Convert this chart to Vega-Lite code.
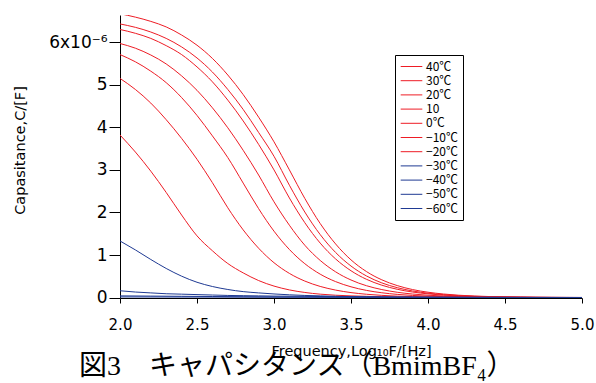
{
  "$schema": "https://vega.github.io/schema/vega-lite/v6.json",
  "width": 462,
  "height": 283,
  "autosize": {"type": "none"},
  "padding": {"left": 120, "top": 15, "right": 14, "bottom": 85},
  "background": "white",
  "title": {"text": "図3　キャパシタンス（BmimBF₄）", "orient": "bottom", "anchor": "start", "font": "Liberation Serif, Noto Sans CJK JP", "fontSize": 28, "fontWeight": "normal", "color": "black", "offset": -5, "dx": 67},
  "datasets": {
    "d": [
      {"T":"40℃","x":2.0,"C":6.67},{"T":"40℃","x":2.1,"C":6.59},{"T":"40℃","x":2.2,"C":6.49},{"T":"40℃","x":2.3,"C":6.36},{"T":"40℃","x":2.4,"C":6.17},{"T":"40℃","x":2.5,"C":5.93},{"T":"40℃","x":2.6,"C":5.62},{"T":"40℃","x":2.7,"C":5.23},{"T":"40℃","x":2.8,"C":4.77},{"T":"40℃","x":2.9,"C":4.24},{"T":"40℃","x":3.0,"C":3.66},{"T":"40℃","x":3.1,"C":3.00},{"T":"40℃","x":3.2,"C":2.33},{"T":"40℃","x":3.3,"C":1.74},{"T":"40℃","x":3.4,"C":1.26},{"T":"40℃","x":3.5,"C":0.886},{"T":"40℃","x":3.6,"C":0.612},{"T":"40℃","x":3.7,"C":0.417},{"T":"40℃","x":3.8,"C":0.282},{"T":"40℃","x":3.9,"C":0.188},{"T":"40℃","x":4.0,"C":0.126},{"T":"40℃","x":4.1,"C":0.084},{"T":"40℃","x":4.2,"C":0.055},{"T":"40℃","x":4.3,"C":0.037},{"T":"40℃","x":4.4,"C":0.024},{"T":"40℃","x":4.5,"C":0.016},{"T":"40℃","x":4.6,"C":0.011},{"T":"40℃","x":4.7,"C":0.007},{"T":"40℃","x":4.8,"C":0.005},{"T":"40℃","x":4.9,"C":0.003},{"T":"40℃","x":5.0,"C":0.002},
      {"T":"30℃","x":2.0,"C":6.43},{"T":"30℃","x":2.1,"C":6.35},{"T":"30℃","x":2.2,"C":6.24},{"T":"30℃","x":2.3,"C":6.09},{"T":"30℃","x":2.4,"C":5.89},{"T":"30℃","x":2.5,"C":5.63},{"T":"30℃","x":2.6,"C":5.30},{"T":"30℃","x":2.7,"C":4.89},{"T":"30℃","x":2.8,"C":4.42},{"T":"30℃","x":2.9,"C":3.88},{"T":"30℃","x":3.0,"C":3.32},{"T":"30℃","x":3.1,"C":2.64},{"T":"30℃","x":3.2,"C":2.01},{"T":"30℃","x":3.3,"C":1.48},{"T":"30℃","x":3.4,"C":1.06},{"T":"30℃","x":3.5,"C":0.741},{"T":"30℃","x":3.6,"C":0.509},{"T":"30℃","x":3.7,"C":0.345},{"T":"30℃","x":3.8,"C":0.233},{"T":"30℃","x":3.9,"C":0.155},{"T":"30℃","x":4.0,"C":0.103},{"T":"30℃","x":4.1,"C":0.069},{"T":"30℃","x":4.2,"C":0.046},{"T":"30℃","x":4.3,"C":0.030},{"T":"30℃","x":4.4,"C":0.020},{"T":"30℃","x":4.5,"C":0.013},{"T":"30℃","x":4.6,"C":0.009},{"T":"30℃","x":4.7,"C":0.006},{"T":"30℃","x":4.8,"C":0.004},{"T":"30℃","x":4.9,"C":0.003},{"T":"30℃","x":5.0,"C":0.002},
      {"T":"20℃","x":2.0,"C":6.30},{"T":"20℃","x":2.1,"C":6.21},{"T":"20℃","x":2.2,"C":6.09},{"T":"20℃","x":2.3,"C":5.92},{"T":"20℃","x":2.4,"C":5.71},{"T":"20℃","x":2.5,"C":5.42},{"T":"20℃","x":2.6,"C":5.07},{"T":"20℃","x":2.7,"C":4.64},{"T":"20℃","x":2.8,"C":4.15},{"T":"20℃","x":2.9,"C":3.60},{"T":"20℃","x":3.0,"C":3.00},{"T":"20℃","x":3.1,"C":2.34},{"T":"20℃","x":3.2,"C":1.76},{"T":"20℃","x":3.3,"C":1.28},{"T":"20℃","x":3.4,"C":0.908},{"T":"20℃","x":3.5,"C":0.630},{"T":"20℃","x":3.6,"C":0.430},{"T":"20℃","x":3.7,"C":0.291},{"T":"20℃","x":3.8,"C":0.195},{"T":"20℃","x":3.9,"C":0.130},{"T":"20℃","x":4.0,"C":0.087},{"T":"20℃","x":4.1,"C":0.057},{"T":"20℃","x":4.2,"C":0.038},{"T":"20℃","x":4.3,"C":0.025},{"T":"20℃","x":4.4,"C":0.017},{"T":"20℃","x":4.5,"C":0.011},{"T":"20℃","x":4.6,"C":0.007},{"T":"20℃","x":4.7,"C":0.005},{"T":"20℃","x":4.8,"C":0.003},{"T":"20℃","x":4.9,"C":0.002},{"T":"20℃","x":5.0,"C":0.001},
      {"T":"10","x":2.0,"C":5.97},{"T":"10","x":2.1,"C":5.86},{"T":"10","x":2.2,"C":5.70},{"T":"10","x":2.3,"C":5.49},{"T":"10","x":2.4,"C":5.21},{"T":"10","x":2.5,"C":4.87},{"T":"10","x":2.6,"C":4.46},{"T":"10","x":2.7,"C":3.99},{"T":"10","x":2.8,"C":3.46},{"T":"10","x":2.9,"C":2.88},{"T":"10","x":3.0,"C":2.25},{"T":"10","x":3.1,"C":1.70},{"T":"10","x":3.2,"C":1.23},{"T":"10","x":3.3,"C":0.873},{"T":"10","x":3.4,"C":0.605},{"T":"10","x":3.5,"C":0.413},{"T":"10","x":3.6,"C":0.279},{"T":"10","x":3.7,"C":0.188},{"T":"10","x":3.8,"C":0.125},{"T":"10","x":3.9,"C":0.083},{"T":"10","x":4.0,"C":0.055},{"T":"10","x":4.1,"C":0.037},{"T":"10","x":4.2,"C":0.024},{"T":"10","x":4.3,"C":0.016},{"T":"10","x":4.4,"C":0.011},{"T":"10","x":4.5,"C":0.007},{"T":"10","x":4.6,"C":0.005},{"T":"10","x":4.7,"C":0.003},{"T":"10","x":4.8,"C":0.002},{"T":"10","x":4.9,"C":0.001},{"T":"10","x":5.0,"C":0.001},
      {"T":"0℃","x":2.0,"C":5.71},{"T":"0℃","x":2.1,"C":5.54},{"T":"0℃","x":2.2,"C":5.32},{"T":"0℃","x":2.3,"C":5.05},{"T":"0℃","x":2.4,"C":4.70},{"T":"0℃","x":2.5,"C":4.28},{"T":"0℃","x":2.6,"C":3.80},{"T":"0℃","x":2.7,"C":3.29},{"T":"0℃","x":2.8,"C":2.69},{"T":"0℃","x":2.9,"C":2.09},{"T":"0℃","x":3.0,"C":1.56},{"T":"0℃","x":3.1,"C":1.13},{"T":"0℃","x":3.2,"C":0.796},{"T":"0℃","x":3.3,"C":0.550},{"T":"0℃","x":3.4,"C":0.375},{"T":"0℃","x":3.5,"C":0.253},{"T":"0℃","x":3.6,"C":0.169},{"T":"0℃","x":3.7,"C":0.113},{"T":"0℃","x":3.8,"C":0.075},{"T":"0℃","x":3.9,"C":0.050},{"T":"0℃","x":4.0,"C":0.033},{"T":"0℃","x":4.1,"C":0.022},{"T":"0℃","x":4.2,"C":0.014},{"T":"0℃","x":4.3,"C":0.010},{"T":"0℃","x":4.4,"C":0.006},{"T":"0℃","x":4.5,"C":0.004},{"T":"0℃","x":4.6,"C":0.003},{"T":"0℃","x":4.7,"C":0.002},{"T":"0℃","x":4.8,"C":0.001},{"T":"0℃","x":4.9,"C":0.001},{"T":"0℃","x":5.0,"C":0.001},
      {"T":"−10℃","x":2.0,"C":5.15},{"T":"−10℃","x":2.1,"C":4.89},{"T":"−10℃","x":2.2,"C":4.57},{"T":"−10℃","x":2.3,"C":4.18},{"T":"−10℃","x":2.4,"C":3.74},{"T":"−10℃","x":2.5,"C":3.25},{"T":"−10℃","x":2.6,"C":2.70},{"T":"−10℃","x":2.7,"C":2.11},{"T":"−10℃","x":2.8,"C":1.59},{"T":"−10℃","x":2.9,"C":1.16},{"T":"−10℃","x":3.0,"C":0.819},{"T":"−10℃","x":3.1,"C":0.568},{"T":"−10℃","x":3.2,"C":0.388},{"T":"−10℃","x":3.3,"C":0.262},{"T":"−10℃","x":3.4,"C":0.176},{"T":"−10℃","x":3.5,"C":0.117},{"T":"−10℃","x":3.6,"C":0.078},{"T":"−10℃","x":3.7,"C":0.052},{"T":"−10℃","x":3.8,"C":0.034},{"T":"−10℃","x":3.9,"C":0.023},{"T":"−10℃","x":4.0,"C":0.015},{"T":"−10℃","x":4.2,"C":0.0065},{"T":"−10℃","x":4.4,"C":0.003},{"T":"−10℃","x":4.7,"C":0.001},{"T":"−10℃","x":5.0,"C":0.0005},
      {"T":"−20℃","x":2.0,"C":3.82},{"T":"−20℃","x":2.1,"C":3.42},{"T":"−20℃","x":2.2,"C":2.97},{"T":"−20℃","x":2.3,"C":2.47},{"T":"−20℃","x":2.4,"C":1.94},{"T":"−20℃","x":2.5,"C":1.45},{"T":"−20℃","x":2.6,"C":1.10},{"T":"−20℃","x":2.7,"C":0.80},{"T":"−20℃","x":2.8,"C":0.58},{"T":"−20℃","x":2.9,"C":0.40},{"T":"−20℃","x":3.0,"C":0.27},{"T":"−20℃","x":3.1,"C":0.18},{"T":"−20℃","x":3.2,"C":0.12},{"T":"−20℃","x":3.3,"C":0.08},{"T":"−20℃","x":3.4,"C":0.055},{"T":"−20℃","x":3.5,"C":0.04},{"T":"−20℃","x":3.6,"C":0.03},{"T":"−20℃","x":3.7,"C":0.02},{"T":"−20℃","x":3.8,"C":0.015},{"T":"−20℃","x":3.9,"C":0.01},{"T":"−20℃","x":4.0,"C":0.008},{"T":"−20℃","x":4.3,"C":0.004},{"T":"−20℃","x":4.6,"C":0.002},{"T":"−20℃","x":5.0,"C":0.001},
      {"T":"−30℃","x":2.0,"C":1.33},{"T":"−30℃","x":2.1,"C":1.12},{"T":"−30℃","x":2.2,"C":0.895},{"T":"−30℃","x":2.3,"C":0.684},{"T":"−30℃","x":2.4,"C":0.503},{"T":"−30℃","x":2.5,"C":0.36},{"T":"−30℃","x":2.6,"C":0.26},{"T":"−30℃","x":2.7,"C":0.19},{"T":"−30℃","x":2.8,"C":0.14},{"T":"−30℃","x":2.9,"C":0.11},{"T":"−30℃","x":3.0,"C":0.085},{"T":"−30℃","x":3.1,"C":0.065},{"T":"−30℃","x":3.2,"C":0.05},{"T":"−30℃","x":3.3,"C":0.04},{"T":"−30℃","x":3.4,"C":0.03},{"T":"−30℃","x":3.5,"C":0.022},{"T":"−30℃","x":3.6,"C":0.016},{"T":"−30℃","x":3.8,"C":0.009},{"T":"−30℃","x":4.0,"C":0.005},{"T":"−30℃","x":4.5,"C":0.002},{"T":"−30℃","x":5.0,"C":0.001},
      {"T":"−40℃","x":2.0,"C":0.16},{"T":"−40℃","x":2.1,"C":0.13},{"T":"−40℃","x":2.2,"C":0.11},{"T":"−40℃","x":2.3,"C":0.09},{"T":"−40℃","x":2.4,"C":0.08},{"T":"−40℃","x":2.5,"C":0.07},{"T":"−40℃","x":2.6,"C":0.06},{"T":"−40℃","x":2.7,"C":0.05},{"T":"−40℃","x":2.8,"C":0.045},{"T":"−40℃","x":2.9,"C":0.04},{"T":"−40℃","x":3.0,"C":0.035},{"T":"−40℃","x":3.2,"C":0.03},{"T":"−40℃","x":3.4,"C":0.02},{"T":"−40℃","x":3.6,"C":0.015},{"T":"−40℃","x":3.8,"C":0.01},{"T":"−40℃","x":4.0,"C":0.008},{"T":"−40℃","x":4.5,"C":0.004},{"T":"−40℃","x":5.0,"C":0.002},
      {"T":"−50℃","x":2.0,"C":0.04},{"T":"−50℃","x":2.2,"C":0.035},{"T":"−50℃","x":2.4,"C":0.03},{"T":"−50℃","x":2.6,"C":0.025},{"T":"−50℃","x":2.8,"C":0.02},{"T":"−50℃","x":3.0,"C":0.015},{"T":"−50℃","x":3.5,"C":0.01},{"T":"−50℃","x":4.0,"C":0.005},{"T":"−50℃","x":5.0,"C":0.002},
      {"T":"−60℃","x":2.0,"C":0.015},{"T":"−60℃","x":2.5,"C":0.012},{"T":"−60℃","x":3.0,"C":0.008},{"T":"−60℃","x":3.5,"C":0.005},{"T":"−60℃","x":4.0,"C":0.003},{"T":"−60℃","x":5.0,"C":0.001}
    ]
  },
  "data": {"name": "d"},
  "mark": {"type": "line", "strokeWidth": 1, "interpolate": "monotone", "clip": true},
  "encoding": {
    "x": {
      "field": "x", "type": "quantitative",
      "scale": {"domain": [2, 5], "nice": false, "zero": false},
      "axis": {"title": "Frequency,Log₁₀F/[Hz]", "values": [2, 2.5, 3, 3.5, 4, 4.5, 5], "format": ".1f", "grid": false, "domainColor": "black", "tickColor": "black", "tickSize": 5, "labelFont": "DejaVu Sans", "labelFontSize": 15, "labelColor": "black", "labelPadding": 14, "labelFlush": false, "titleFont": "DejaVu Sans", "titleFontSize": 14.5, "titleFontWeight": "normal", "titleColor": "black", "titlePadding": 12}
    },
    "y": {
      "field": "C", "type": "quantitative",
      "scale": {"domain": [-0.01, 6.64], "nice": false, "zero": false},
      "axis": {"title": "Capasitance,C/[F]", "values": [0, 1, 2, 3, 4, 5, 6], "labelExpr": "datum.value == 6 ? '6x10⁻⁶' : datum.label", "grid": false, "domainColor": "black", "tickColor": "black", "tickSize": 11, "labelFont": "DejaVu Sans", "labelFontSize": 17, "labelColor": "black", "labelPadding": 2, "titleFont": "DejaVu Sans", "titleFontSize": 14.5, "titleFontWeight": "normal", "titleColor": "black", "titleX": -93, "titleY": 135}
    },
    "color": {
      "field": "T", "type": "nominal",
      "scale": {
        "domain": ["40℃", "30℃", "20℃", "10", "0℃", "−10℃", "−20℃", "−30℃", "−40℃", "−50℃", "−60℃"],
        "range": ["#ee1c25", "#ee1c25", "#ee1c25", "#ee1c25", "#ee1c25", "#ee1c25", "#ee1c25", "#1f3a93", "#1f3a93", "#1f3a93", "#1f3a93"]
      },
      "legend": {"title": null, "orient": "none", "legendX": 275, "legendY": 40, "strokeColor": "black", "fillColor": "white", "padding": 5, "symbolType": "M-1.8,0L1.8,0", "symbolSize": 144, "symbolStrokeWidth": 1, "symbolOffset": 5, "labelFont": "Noto Sans CJK JP", "labelFontSize": 12, "labelColor": "black", "rowPadding": 1.2, "labelOffset": 8}
    }
  },
  "config": {"view": {"stroke": null}, "font": "DejaVu Sans"}
}
